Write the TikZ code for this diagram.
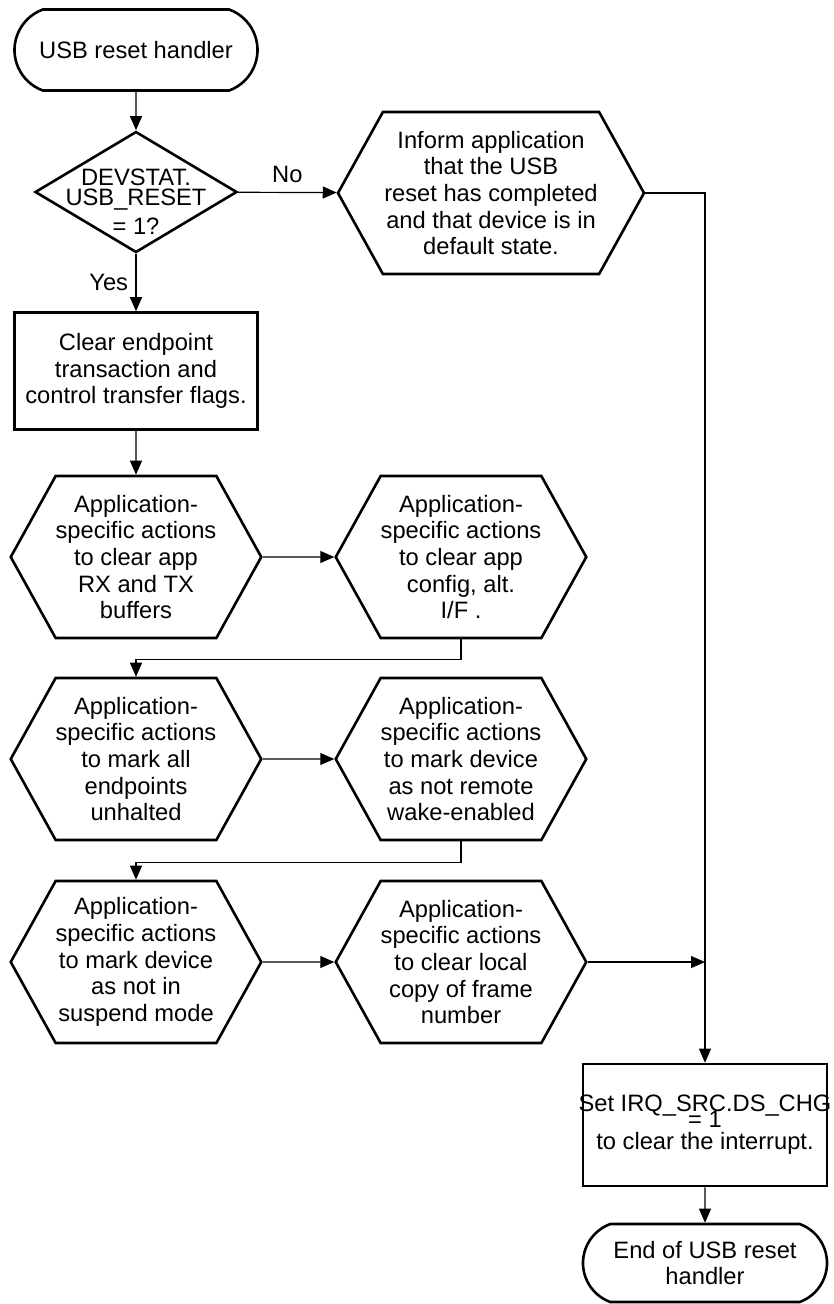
\documentclass[tikz,border=0pt]{standalone}
\usepackage{fontspec}
\setmainfont{Liberation Sans}
\usetikzlibrary{shapes.geometric, shapes.misc, shapes.symbols, arrows.meta}

\begin{document}
\begin{tikzpicture}[x=1pt, y=-1pt,
    font=\fontsize{23.7}{26.7}\selectfont,
    shapeline/.style={draw, line width=2.6pt, inner sep=0pt, align=center},
    terminal/.style={shapeline, rounded rectangle, rounded rectangle arc length=140,
      minimum width=243pt, minimum height=81pt},
    decision/.style={shapeline, diamond, minimum width=202pt, minimum height=121pt},
    procbox/.style={shapeline, rectangle, minimum width=243pt, minimum height=117pt},
    hexbox/.style={shapeline, signal, signal to=west and east, signal pointer angle=122,
      minimum width=247pt, minimum height=162pt},
    conn/.style={line width=1.2pt, -{Triangle[length=14pt,width=12pt]}}]
  \useasboundingbox (0,0) rectangle (833,1304);

  % start and test
  \node[terminal] (start) at (136,50) {USB reset handler};
  \node[decision, label={[align=center, yshift=-10pt]center:DEVSTAT.\\[-6.5pt]USB\_RESET\\[2.5pt]= 1?}] (chk) at (136,192) {};
  \node[hexbox, minimum width=306pt] (info) at (491,193)
    {Inform application\\that the USB\\reset has completed\\and that device is in\\default state.};
  \node[procbox] (clr) at (136,371)
    {Clear endpoint\\transaction and\\control transfer flags.};

  % application-specific actions
  \node[hexbox] (act1) at (136,557) {Application-\\specific actions\\to clear app\\RX and TX\\buffers};
  \node[hexbox] (act2) at (461,557) {Application-\\specific actions\\to clear app\\config, alt.\\I/F .};
  \node[hexbox] (act3) at (136,759) {Application-\\specific actions\\to mark all\\endpoints\\unhalted};
  \node[hexbox] (act4) at (461,759) {Application-\\specific actions\\to mark device\\as not remote\\wake-enabled};
  \node[hexbox] (act5) at (136,962) {Application-\\specific actions\\to mark device\\as not in\\suspend mode};
  \node[hexbox] (act6) at (461,962) {Application-\\specific actions\\to clear local\\copy of frame\\number};

  % end
  \node[procbox, minimum width=244pt, minimum height=122pt, label={[align=center]center:Set IRQ\_SRC.DS\_CHG\\[-10.7pt]= 1\\[-4.7pt]to clear the interrupt.}] (irq) at (705,1125) {};
  \node[terminal, minimum width=244pt, minimum height=78pt] (stop) at (705,1263)
    {End of USB reset\\handler};

  % connectors
  \draw[conn] (start) -- (chk);
  \draw[conn] (chk) -- node[above=6pt] {No} (info);
  \draw[conn] (chk) -- node[left=4pt] {Yes} (clr);
  \draw[conn] (clr) -- (act1);
  \draw[conn] (act1) -- (act2);
  \draw[conn] (act2.south) -- ++(0,20) -| (act3.north);
  \draw[conn] (act3) -- (act4);
  \draw[conn] (act4.south) -- ++(0,21) -| (act5.north);
  \draw[conn] (act5) -- (act6);
  \draw[conn] (info.east) -| (irq.north);
  \draw[conn] (act6.east) -- (act6.east -| irq.north);
  \draw[conn] (irq) -- (stop);
\end{tikzpicture}
\end{document}
